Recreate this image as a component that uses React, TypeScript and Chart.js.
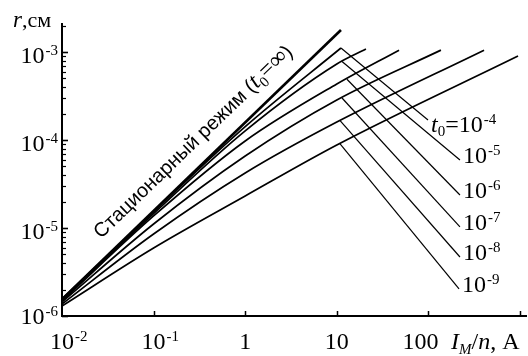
import React, { useEffect, useRef } from "react";
import { Chart, registerables } from "chart.js";
Chart.register(...registerables);

// ---------- data (I_M/n in A, r in cm) ----------
const stationaryI = [0.01, 11.1];
const stationaryR = [1.55e-6, 1.78e-3];

const t0Exponents = ["-4", "-5", "-6", "-7", "-8", "-9"];

const curveI_4 = [0.01, 0.1, 1, 11.1];
const curveR_4 = [1.56e-6, 1.53e-5, 1.42e-4, 1.11e-3];
const curveI_5 = [0.01, 0.1, 1, 10, 20.8];
const curveR_5 = [1.52e-6, 1.46e-5, 1.27e-4, 7.3e-4, 1.08e-3];
const curveI_6 = [0.01, 0.1, 1, 10, 47.8];
const curveR_6 = [1.48e-6, 1.37e-5, 9.75e-5, 4.33e-4, 1.05e-3];
const curveI_7 = [0.01, 0.1, 1, 10, 137];
const curveR_7 = [1.44e-6, 1.11e-5, 6.58e-5, 2.85e-4, 1.05e-3];
const curveI_8 = [0.01, 0.1, 1, 10, 405];
const curveR_8 = [1.37e-6, 8.55e-6, 4.22e-5, 1.6e-4, 1.05e-3];
const curveI_9 = [0.01, 0.1, 1, 10, 951];
const curveR_9 = [1.3e-6, 5.93e-6, 2.31e-5, 8.77e-5, 9.0e-4];

// leader lines from each curve to its t0 label
const leaderStartI = [11.1, 11.4, 12.9, 11.4, 10.8, 10.8];
const leaderStartR = [1.11e-3, 7.8e-4, 4.9e-4, 3.0e-4, 1.67e-4, 9.1e-5];
const leaderEndI = [99, 221, 221, 221, 221, 216];
const leaderEndR = [1.69e-4, 5.93e-5, 2.37e-5, 1.03e-5, 4.68e-6, 2.03e-6];

// axes
const xMin = 0.01;
const xMax = 1192;
const yMin = 1e-6;
const yMax = 2.136e-3;
const xTickValues = [0.01, 0.1, 1, 10, 100];
const xTickBase = ["10", "10", "1", "10", "100"];
const xTickSup = ["-2", "-1", "", "", ""];
const xMajorMarks = [0.1, 1, 10, 100, 1000];
const yTickValues = [1e-6, 1e-5, 1e-4, 1e-3];
const yTickSup = ["-6", "-5", "-4", "-3"];

const SERIF = "'Liberation Serif', 'Times New Roman', serif";
const SANS = "'Liberation Sans', Arial, sans-serif";

const toPts = (xs: number[], ys: number[]) => xs.map((x, i) => ({ x, y: ys[i] }));

const overlay = {
  id: "overlay",
  afterDatasetsDraw(chart: any) {
    const ctx: CanvasRenderingContext2D = chart.ctx;
    const xs = chart.scales.x;
    const ys = chart.scales.y;
    const ca = chart.chartArea;
    ctx.save();
    ctx.strokeStyle = "#000";
    ctx.fillStyle = "#000";

    // axis lines
    ctx.lineWidth = 2;
    ctx.beginPath();
    ctx.moveTo(ca.left, ca.top);
    ctx.lineTo(ca.left, ca.bottom);
    ctx.lineTo(ca.right, ca.bottom);
    ctx.stroke();

    // x tick marks (inward)
    ctx.lineWidth = 1.5;
    xMajorMarks.forEach((v) => {
      const px = Math.round(xs.getPixelForValue(v)) + 0.5;
      ctx.beginPath();
      ctx.moveTo(px, ca.bottom);
      ctx.lineTo(px, ca.bottom - 5);
      ctx.stroke();
    });
    // y tick marks: majors + minors
    for (let e = -6; e <= -3; e++) {
      for (let m = 1; m <= 9; m++) {
        const v = m * Math.pow(10, e);
        if (v < yMin * 0.999 || v > yMax) continue;
        const py = Math.round(ys.getPixelForValue(v)) + 0.5;
        ctx.lineWidth = m === 1 ? 1.6 : 1.2;
        ctx.beginPath();
        ctx.moveTo(ca.left, py);
        ctx.lineTo(ca.left + (m === 1 ? 6 : 4), py);
        ctx.stroke();
      }
    }

    const mainFont = `24px ${SERIF}`;
    const supFont = `15px ${SERIF}`;
    ctx.textBaseline = "alphabetic";
    ctx.textAlign = "left";

    // y tick labels
    yTickValues.forEach((v, i) => {
      const py = ys.getPixelForValue(v);
      ctx.font = mainFont;
      const wb = ctx.measureText("10").width;
      ctx.font = supFont;
      const wsup = ctx.measureText(yTickSup[i]).width;
      const start = ca.left - 4 - wsup - wb - 1;
      const base = i === 0 ? py + 8 : py + 11;
      ctx.font = mainFont;
      ctx.fillText("10", start, base);
      ctx.font = supFont;
      ctx.fillText(yTickSup[i], start + wb + 1, base - 8);
    });

    // x tick labels
    xTickValues.forEach((v, i) => {
      let px = xs.getPixelForValue(v);
      if (i === xTickValues.length - 1) px -= 8;
      ctx.font = mainFont;
      const wb = ctx.measureText(xTickBase[i]).width;
      const start = px - wb / 2;
      ctx.fillText(xTickBase[i], start, 349);
      if (xTickSup[i]) {
        ctx.font = supFont;
        ctx.fillText(xTickSup[i], start + wb + 1, 341);
      }
    });

    // x axis title  I_M/n, A
    {
      let x = xs.getPixelForValue(1000) - 69;
      const b = 349;
      ctx.font = `italic 24px ${SERIF}`;
      ctx.fillText("I", x, b);
      x += ctx.measureText("I").width;
      ctx.font = `italic 15px ${SERIF}`;
      ctx.fillText("M", x, b + 5);
      x += ctx.measureText("M").width;
      ctx.font = `24px ${SERIF}`;
      ctx.fillText("/", x, b);
      x += ctx.measureText("/").width;
      ctx.font = `italic 24px ${SERIF}`;
      ctx.fillText("n", x, b);
      x += ctx.measureText("n").width;
      ctx.font = `24px ${SERIF}`;
      ctx.fillText(", A", x, b);
    }

    // y axis title  r,см
    {
      let x = 13;
      const b = 27;
      ctx.font = `italic 23px ${SERIF}`;
      ctx.fillText("r", x, b);
      x += ctx.measureText("r").width;
      ctx.font = `22px ${SERIF}`;
      ctx.fillText(",см", x, b);
    }

    // t0 labels at leader ends
    leaderEndI.forEach((vx, i) => {
      const ex = xs.getPixelForValue(vx);
      const ey = ys.getPixelForValue(leaderEndR[i]);
      let x = ex + 3;
      const b = i === 0 ? ey + 12 : ey + 3;
      if (i === 0) {
        ctx.font = `italic 24px ${SERIF}`;
        ctx.fillText("t", x, b);
        x += ctx.measureText("t").width;
        ctx.font = `15px ${SERIF}`;
        ctx.fillText("0", x, b + 4);
        x += ctx.measureText("0").width;
        ctx.font = mainFont;
        ctx.fillText("=", x, b);
        x += ctx.measureText("=").width;
      }
      ctx.font = mainFont;
      ctx.fillText("10", x, b);
      x += ctx.measureText("10").width + 1;
      ctx.font = supFont;
      ctx.fillText(t0Exponents[i], x, b - 8);
    });

    // rotated label along the stationary line
    {
      const p0x = xs.getPixelForValue(stationaryI[0]);
      const p0y = ys.getPixelForValue(stationaryR[0]);
      const p1x = xs.getPixelForValue(stationaryI[1]);
      const p1y = ys.getPixelForValue(stationaryR[1]);
      const ang = Math.atan2(p1y - p0y, p1x - p0x);
      const t = 0.18;
      const lx = p0x + t * (p1x - p0x);
      const ly = p0y + t * (p1y - p0y);
      const d = 16;
      const ax = lx + d * Math.sin(ang);
      const ay = ly - d * Math.cos(ang);
      ctx.translate(ax, ay);
      ctx.rotate(ang);
      let x = 0;
      ctx.font = `20px ${SANS}`;
      const s1 = "Стационарный режим (";
      ctx.fillText(s1, x, 0);
      x += ctx.measureText(s1).width;
      ctx.font = `italic 24px ${SERIF}`;
      ctx.fillText("t", x, 0);
      x += ctx.measureText("t").width;
      ctx.font = `15px ${SERIF}`;
      ctx.fillText("0", x, 5);
      x += ctx.measureText("0").width;
      ctx.font = `24px ${SERIF}`;
      ctx.fillText("=∞", x, 0);
      x += ctx.measureText("=∞").width;
      ctx.font = `20px ${SANS}`;
      ctx.fillText(")", x, 0);
    }
    ctx.restore();
  },
};

export default function App() {
  const ref = useRef<HTMLCanvasElement | null>(null);
  useEffect(() => {
    if (!ref.current) return;
    const curves = [
      [curveI_4, curveR_4],
      [curveI_5, curveR_5],
      [curveI_6, curveR_6],
      [curveI_7, curveR_7],
      [curveI_8, curveR_8],
      [curveI_9, curveR_9],
    ];
    const datasets: any[] = [
      {
        data: toPts(stationaryI, stationaryR),
        borderColor: "#000",
        borderWidth: 2.6,
        pointRadius: 0,
        fill: false,
      },
      ...curves.map(([xs, ys]) => ({
        data: toPts(xs, ys),
        borderColor: "#000",
        borderWidth: 1.7,
        pointRadius: 0,
        fill: false,
        cubicInterpolationMode: "monotone",
      })),
      ...leaderStartI.map((sx, i) => ({
        data: toPts([sx, leaderEndI[i]], [leaderStartR[i], leaderEndR[i]]),
        borderColor: "#000",
        borderWidth: 1.2,
        pointRadius: 0,
        fill: false,
      })),
    ];
    const chart = new Chart(ref.current, {
      type: "line",
      data: { datasets },
      options: {
        animation: false,
        responsive: false,
        devicePixelRatio: 1,
        layout: { padding: { left: 62, top: 23, right: 1, bottom: 40 } },
        plugins: { legend: { display: false }, tooltip: { enabled: false } },
        scales: {
          x: { type: "logarithmic", min: xMin, max: xMax, display: false },
          y: { type: "logarithmic", min: yMin, max: yMax, display: false },
        },
      },
      plugins: [overlay],
    });
    return () => chart.destroy();
  }, []);
  return (
    <div style={{ position: "fixed", left: 0, top: 0, width: 528, height: 356, background: "#fff" }}>
      <canvas ref={ref} width={528} height={356} style={{ width: 528, height: 356 }} />
    </div>
  );
}
